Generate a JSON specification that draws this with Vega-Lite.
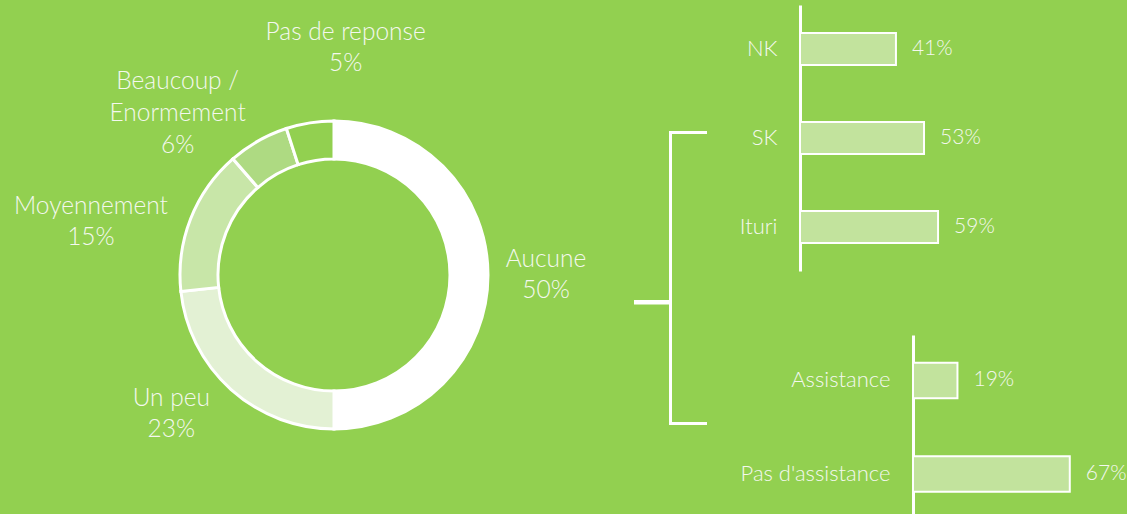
{
  "$schema": "https://vega.github.io/schema/vega-lite/v6.json",
  "background": "#92D050",
  "padding": 0,
  "spacing": 0,
  "bounds": "flush",
  "config": {
    "view": {"stroke": null},
    "font": "Lato",
    "text": {"font": "Lato", "fontWeight": 300, "fill": "#F4F8EF"},
    "axis": {"labelFont": "Lato", "labelFontWeight": 300}
  },
  "datasets": {
    "donut": [
      {"cat": "Aucune", "pct": 0.5, "rank": 1},
      {"cat": "Un peu", "pct": 0.233, "rank": 2},
      {"cat": "Moyennement", "pct": 0.153, "rank": 3},
      {"cat": "Beaucoup /\nEnormement", "pct": 0.064, "rank": 4},
      {"cat": "Pas de reponse", "pct": 0.05, "rank": 5}
    ],
    "region": [
      {"cat": "NK", "pct": 0.41},
      {"cat": "SK", "pct": 0.53},
      {"cat": "Ituri", "pct": 0.59}
    ],
    "assist": [
      {"cat": "Assistance", "pct": 0.19},
      {"cat": "Pas d'assistance", "pct": 0.67}
    ]
  },
  "hconcat": [
    {
      "width": 668,
      "height": 550,
      "data": {"name": "donut"},
      "transform": [
        {"calculate": "datum.cat + '\\n' + format(datum.pct, '.0%')", "as": "label"}
      ],
      "encoding": {
        "theta": {"field": "pct", "type": "quantitative", "stack": true},
        "order": {"field": "rank", "type": "quantitative"}
      },
      "layer": [
        {
          "mark": {"type": "arc", "outerRadius": 154, "innerRadius": 116, "stroke": "white", "strokeWidth": 3},
          "encoding": {
            "color": {
              "field": "cat", "type": "nominal", "legend": null,
              "scale": {
                "domain": ["Aucune", "Un peu", "Moyennement", "Beaucoup /\nEnormement", "Pas de reponse"],
                "range": ["#FFFFFF", "#E3F1D4", "#C8E6A8", "#AEDA82", "#92D050"]
              }
            }
          }
        },
        {
          "mark": {"type": "text", "radius": 212, "dy": -15.5, "fontSize": 24.5, "lineHeight": 31, "lineBreak": "\n", "align": "center", "baseline": "middle"},
          "encoding": {"text": {"condition": {"test": "datum.rank === 1", "field": "label"}, "value": ""}}
        },
        {
          "mark": {"type": "text", "radius": 215, "dx": -19, "dy": -35.5, "fontSize": 24.5, "lineHeight": 31, "lineBreak": "\n", "align": "center", "baseline": "middle"},
          "encoding": {"text": {"condition": {"test": "datum.rank === 2", "field": "label"}, "value": ""}}
        },
        {
          "mark": {"type": "text", "radius": 245, "dx": -15, "dy": 21.5, "fontSize": 24.5, "lineHeight": 31, "lineBreak": "\n", "align": "center", "baseline": "middle"},
          "encoding": {"text": {"condition": {"test": "datum.rank === 3", "field": "label"}, "value": ""}}
        },
        {
          "mark": {"type": "text", "radius": 222, "dx": -47, "dy": 0, "fontSize": 24.5, "lineHeight": 32, "lineBreak": "\n", "align": "center", "baseline": "middle"},
          "encoding": {"text": {"condition": {"test": "datum.rank === 4", "field": "label"}, "value": ""}}
        },
        {
          "mark": {"type": "text", "radius": 226, "dx": 47, "dy": -18.5, "fontSize": 24.5, "lineHeight": 31, "lineBreak": "\n", "align": "center", "baseline": "middle"},
          "encoding": {"text": {"condition": {"test": "datum.rank === 5", "field": "label"}, "value": ""}}
        },
        {
          "data": {"values": [{}]},
          "mark": {"type": "rule", "stroke": "white", "strokeWidth": 3},
          "encoding": {
            "x": {"datum": 670.5, "type": "quantitative", "scale": {"domain": [0, 668], "range": [0, 668], "nice": false, "zero": false}, "axis": null},
            "y": {"datum": 131, "type": "quantitative", "scale": {"domain": [0, 550], "range": [0, 550], "nice": false, "zero": false}, "axis": null},
            "y2": {"datum": 425}
          }
        },
        {
          "data": {"values": [{}]},
          "mark": {"type": "rule", "stroke": "white", "strokeWidth": 3},
          "encoding": {
            "x": {"datum": 669, "type": "quantitative"},
            "x2": {"datum": 707},
            "y": {"datum": 132.5, "type": "quantitative"}
          }
        },
        {
          "data": {"values": [{}]},
          "mark": {"type": "rule", "stroke": "white", "strokeWidth": 3},
          "encoding": {
            "x": {"datum": 669, "type": "quantitative"},
            "x2": {"datum": 707},
            "y": {"datum": 423.5, "type": "quantitative"}
          }
        },
        {
          "data": {"values": [{}]},
          "mark": {"type": "rule", "stroke": "white", "strokeWidth": 4.5},
          "encoding": {
            "x": {"datum": 634, "type": "quantitative"},
            "x2": {"datum": 672},
            "y": {"datum": 302.3, "type": "quantitative"}
          }
        }
      ]
    },
    {
      "width": 459,
      "height": 514,
      "layer": [
        {
          "data": {"name": "region"},
          "encoding": {
            "y": {
              "field": "cat", "type": "nominal", "sort": null,
              "scale": {"range": [5, 271], "paddingInner": 0.64, "paddingOuter": 0.315},
              "axis": {"orient": "left", "offset": -132, "title": null, "ticks": false, "labelPadding": 23, "domainColor": "white", "domainWidth": 3, "labelFontSize": 22, "labelColor": "#F4F8EF"}
            },
            "x": {"field": "pct", "type": "quantitative", "scale": {"domain": [0, 1], "range": [132, 366], "nice": false}, "axis": null}
          },
          "layer": [
            {"mark": {"type": "bar", "fill": "#C2E39D", "stroke": "white", "strokeWidth": 2}},
            {
              "mark": {"type": "text", "align": "left", "baseline": "middle", "dx": 16, "fontSize": 21},
              "encoding": {"text": {"field": "pct", "type": "quantitative", "format": ".0%"}}
            }
          ]
        },
        {
          "data": {"name": "assist"},
          "encoding": {
            "y": {
              "field": "cat", "type": "nominal", "sort": null,
              "scale": {"range": [335, 519.4], "paddingInner": 0.62, "paddingOuter": 0.296},
              "axis": {"orient": "left", "offset": -245, "title": null, "ticks": false, "labelPadding": 23, "domainColor": "white", "domainWidth": 3, "labelFontSize": 22, "labelColor": "#F4F8EF"}
            },
            "x": {"field": "pct", "type": "quantitative", "scale": {"domain": [0, 1], "range": [245, 479], "nice": false}, "axis": null}
          },
          "layer": [
            {"mark": {"type": "bar", "fill": "#C2E39D", "stroke": "white", "strokeWidth": 2}},
            {
              "mark": {"type": "text", "align": "left", "baseline": "middle", "dx": 16, "fontSize": 21},
              "encoding": {"text": {"field": "pct", "type": "quantitative", "format": ".0%"}}
            }
          ]
        }
      ],
      "resolve": {"scale": {"x": "independent", "y": "independent"}, "axis": {"x": "independent", "y": "independent"}}
    }
  ]
}
